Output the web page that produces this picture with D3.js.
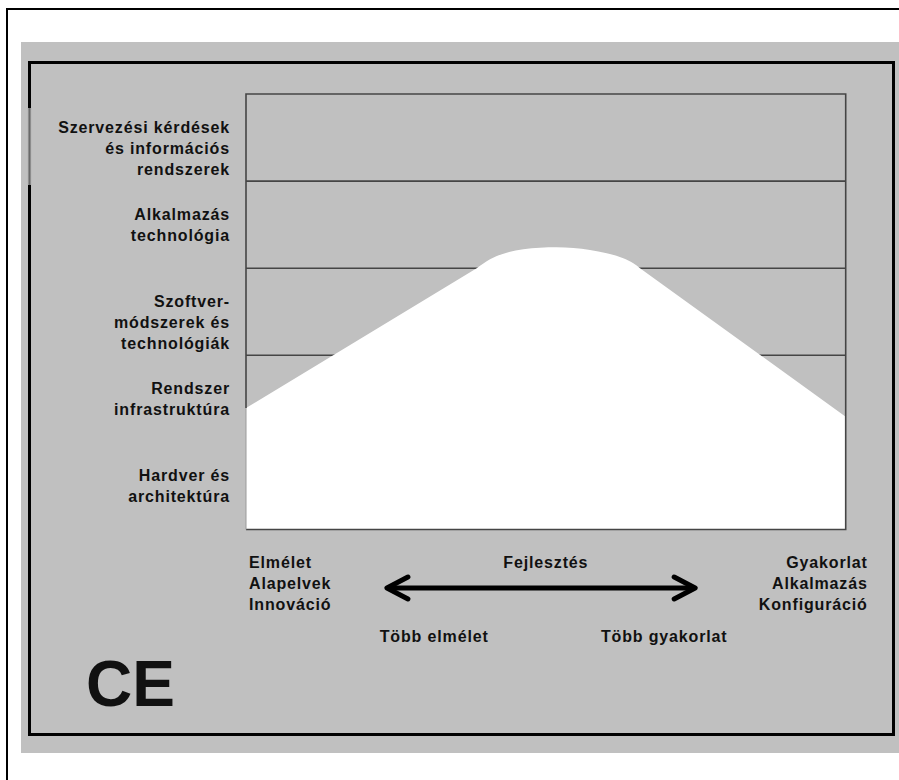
<!DOCTYPE html>
<html>
<head>
<meta charset="utf-8">
<script src="https://cdn.jsdelivr.net/npm/d3@7"></script>
<style>
  html, body { margin: 0; padding: 0; background: #fff; }
  svg { display: block; }
  text { font-family: "Liberation Sans", Arial, sans-serif; font-weight: bold; fill: #111; }
</style>
</head>
<body>
<script>
// ---- data ----
// Layers, bottom to top
const layers = [
  ["Hardver és", "architektúra"],
  ["Rendszer", "infrastruktúra"],
  ["Szoftver-", "módszerek és", "technológiák"],
  ["Alkalmazás", "technológia"],
  ["Szervezési kérdések", "és információs", "rendszerek"]
];
// Mountain profile: position along theory→practice axis (0..100) and layer height (0..5)
// first and last points are the straight flanks' outer ends; the rest is the rounded summit
const profileX = [0, 38.47, 40.69, 43.47, 46.24, 49.02, 51.81, 54.58, 57.36, 60.15, 62.91, 64.58, 65.7, 100];
const profileY = [1.395, 2.999, 3.102, 3.178, 3.217, 3.235, 3.240, 3.232, 3.209, 3.171, 3.114, 3.056, 2.999, 1.295];
const leftLabels = ["Elmélet", "Alapelvek", "Innováció"];
const rightLabels = ["Gyakorlat", "Alkalmazás", "Konfiguráció"];
const middleLabel = "Fejlesztés";
const arrowRange = [23.5, 74.9];
const arrowLabels = ["Több elmélet", "Több gyakorlat"];
const badge = "CE";

// ---- layout ----
const W = 899, H = 780;
const plot = { left: 246, right: 845.7, top: 94, bottom: 529.5 };

const svg = d3.select("body").append("svg").attr("width", W).attr("height", H);

svg.append("rect").attr("width", W).attr("height", H).attr("fill", "#fff");
// page border (top & left)
svg.append("path").attr("d", "M7,780 V9 H899").attr("fill", "none").attr("stroke", "#000").attr("stroke-width", 2);
// gray panel
svg.append("rect").attr("x", 21).attr("y", 42).attr("width", 878).attr("height", 711).attr("fill", "#c0c0c0");
// inner black frame
svg.append("rect").attr("x", 29.5).attr("y", 62.5).attr("width", 864).attr("height", 672)
  .attr("fill", "none").attr("stroke", "#000").attr("stroke-width", 3);
svg.append("line").attr("x1", 29.5).attr("x2", 29.5).attr("y1", 108).attr("y2", 185)
  .attr("stroke", "#8c8c8c").attr("stroke-width", 3.2);
svg.append("line").attr("x1", 29.5).attr("x2", 29.5).attr("y1", 108).attr("y2", 185)
  .attr("stroke", "#6a6a6a").attr("stroke-width", 1);

const x = d3.scaleLinear().domain([0, 100]).range([plot.left, plot.right]);
const y = d3.scaleLinear().domain([0, layers.length]).range([plot.bottom, plot.top]);

// grid lines between layers
const g = svg.append("g");
g.selectAll("line.grid").data(d3.range(1, layers.length)).join("line")
  .attr("class", "grid")
  .attr("x1", plot.left).attr("x2", plot.right)
  .attr("y1", d => y(d)).attr("y2", d => y(d))
  .attr("stroke", "#454545").attr("stroke-width", 1.6);

// white mountain: straight flanks + smooth summit
const pts = profileX.map((v, i) => [x(v), y(profileY[i])]);
const n = pts.length;
const summit = d3.line().curve(d3.curveMonotoneX)(pts.slice(1, n - 1));
const mountain = `M${pts[0][0]},${y(0)} L${pts[0][0]},${pts[0][1]} L` +
  summit.slice(1) +
  ` L${pts[n - 1][0]},${pts[n - 1][1]} L${pts[n - 1][0]},${y(0)} Z`;
g.append("path").attr("d", mountain).attr("fill", "#fff");

// plot border
g.append("path")
  .attr("d", `M${plot.left},${y(profileY[0])} V${plot.top} H${plot.right} V${plot.bottom} H${plot.left}`)
  .attr("fill", "none").attr("stroke", "#454545").attr("stroke-width", 1.6);
g.append("line").attr("x1", plot.left).attr("x2", plot.left)
  .attr("y1", y(profileY[0])).attr("y2", plot.bottom)
  .attr("stroke", "#9a9a9a").attr("stroke-width", 1);

// layer labels
const fs = 16, lh = 21, ls = 0.85;
layers.forEach((lines, i) => {
  const c = (y(i) + y(i + 1)) / 2;
  lines.forEach((t, j) => {
    svg.append("text")
      .attr("x", 230).attr("y", c - 5 + j * lh)
      .attr("text-anchor", "end")
      .attr("font-size", fs).attr("letter-spacing", ls)
      .text(t);
  });
});

// bottom labels
const by = plot.bottom + 38.5;
leftLabels.forEach((t, j) => {
  svg.append("text").attr("x", x(0) + 3).attr("y", by + j * lh)
    .attr("font-size", fs).attr("letter-spacing", ls).text(t);
});
rightLabels.forEach((t, j) => {
  svg.append("text").attr("x", x(100) + 22).attr("y", by + j * lh)
    .attr("text-anchor", "end").attr("font-size", fs).attr("letter-spacing", ls).text(t);
});
svg.append("text").attr("x", x(50)).attr("y", by)
  .attr("text-anchor", "middle").attr("font-size", fs).attr("letter-spacing", ls).text(middleLabel);

// double arrow
const ay = plot.bottom + 58.5;
const ax0 = x(arrowRange[0]), ax1 = x(arrowRange[1]);
const arrow = svg.append("g").attr("fill", "none").attr("stroke", "#000")
  .attr("stroke-width", 5).attr("stroke-linecap", "round").attr("stroke-linejoin", "round");
arrow.append("line").attr("x1", ax0 + 2).attr("x2", ax1 - 2).attr("y1", ay).attr("y2", ay);
arrow.append("path").attr("d", `M${ax0 + 21},${ay - 11} L${ax0},${ay} L${ax0 + 21},${ay + 11}`);
arrow.append("path").attr("d", `M${ax1 - 21},${ay - 11} L${ax1},${ay} L${ax1 - 21},${ay + 11}`);

svg.append("text").attr("x", x(22.3)).attr("y", ay + 53.5)
  .attr("font-size", fs).attr("letter-spacing", ls).text(arrowLabels[0]);
svg.append("text").attr("x", x(80.3)).attr("y", ay + 53.5)
  .attr("text-anchor", "end").attr("font-size", fs).attr("letter-spacing", ls).text(arrowLabels[1]);

// CE badge
svg.append("text").attr("x", 86).attr("y", 705.5)
  .attr("font-size", 64).attr("fill", "#000").text(badge);
</script>
</body>
</html>
